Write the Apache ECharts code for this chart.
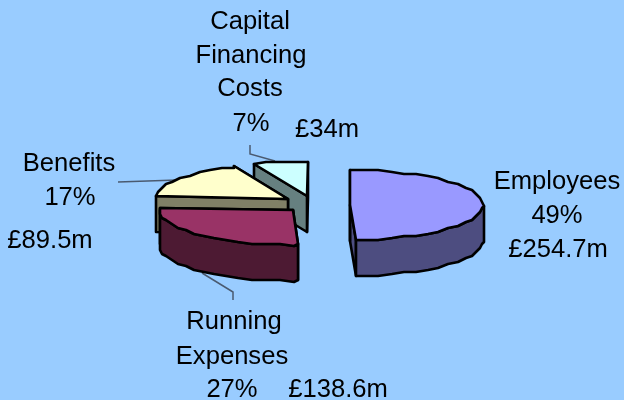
<!DOCTYPE html>
<html><head><meta charset="utf-8">
<style>html,body{margin:0;padding:0;background:#99CCFF}#c{width:624px;height:400px}</style>
<script src="https://cdn.jsdelivr.net/npm/echarts@6/dist/echarts.min.js"></script></head>
<body><div id="c"></div>
<script>
// Data
const categories = ['Employees', 'Running Expenses', 'Benefits', 'Capital Financing Costs'];
const amounts = [254.7, 138.6, 89.5, 34];

// Styles and layout, kept apart from the data
const topColors = ['#9999FF', '#993366', '#FFFFCC', '#CCFFFF'];
const sideColors = ['#4D4D80', '#4D1A33', '#808066', '#668080'];
const centers = [[350, 205], [293, 210], [288, 199], [307, 196]];
const RX = 133, RY = 35, DEPTH = 36, FONT = 25.6, LEADER = '#4A5A70';

const total = amounts.reduce((a, b) => a + b, 0);
const startAngles = [];
amounts.reduce((acc, v, i) => { startAngles[i] = acc; return acc + v / total * 360; }, 0);

function rimPoint(c, deg, dy) {
  const r = deg * Math.PI / 180;
  const x = c[0] + RX * Math.sin(r), y = c[1] - RY * Math.cos(r) + (dy || 0);
  return [Math.round(x / 2) * 2, Math.round(y / 2) * 2];
}
function arc(c, a0, a1, dy) {
  const pts = [rimPoint(c, a0, dy)];
  for (let a = Math.ceil(a0 / 6 + 1e-6) * 6; a < a1; a += 6) pts.push(rimPoint(c, a, dy));
  pts.push(rimPoint(c, a1, dy));
  return pts;
}
const face = (points, fill) => ({
  type: 'polygon', shape: { points },
  style: { fill, stroke: '#000', lineWidth: 2.6, lineJoin: 'round' }
});

function renderSlice(params, api) {
  const i = api.value(0), value = api.value(1);
  const a0 = startAngles[i], a1 = a0 + value / total * 360;
  const c = centers[i], side = sideColors[i], top = topColors[i];
  const quad = deg => {
    const p = rimPoint(c, deg);
    return face([c, p, [p[0], p[1] + DEPTH], [c[0], c[1] + DEPTH]], side);
  };
  const children = [quad(a1), quad(a0)];
  const f0 = Math.max(a0, 90), f1 = Math.min(a1, 270);
  if (f1 > f0) {
    children.push(face(arc(c, f0, f1, 0).concat(arc(c, f0, f1, DEPTH).reverse()), side));
  }
  children.push(face([c].concat(arc(c, a0, a1, 0)), top));
  return { type: 'group', children };
}

// Label text
const labels = [
  ['Capital', 250, 22], ['Financing', 251, 56], ['Costs', 250, 89], ['7%', 251, 124], ['£34m', 327, 130],
  ['Benefits', 69, 164], ['17%', 70, 198], ['£89.5m', 50, 241],
  ['Employees', 557, 182], ['49%', 557, 216], ['£254.7m', 558, 250],
  ['Running', 234, 322], ['Expenses', 232, 357], ['27%', 232, 390], ['£138.6m', 338, 390]
];
const leaders = [
  [[250, 145], [250, 154], [275, 161]],
  [[118, 182], [177, 180]],
  [[202, 273], [233, 292], [233, 300]]
];

const order = amounts.map((v, i) => [i, v]).reverse();

const chart = echarts.init(document.getElementById('c'), null, { renderer: 'canvas' });
chart.setOption({
  animation: false,
  backgroundColor: '#99CCFF',
  series: [{
    type: 'custom', coordinateSystem: 'none', silent: true,
    renderItem: renderSlice, data: order, z: 2
  }],
  graphic: leaders.map(points => ({
    type: 'polyline', shape: { points }, silent: true, z: 1,
    style: { fill: null, stroke: LEADER, lineWidth: 1.5 }
  })).concat(labels.map(([text, x, y]) => ({
    type: 'text', x, y, silent: true, z: 5,
    style: { text, fill: '#000', font: FONT + 'px "Liberation Sans", Arial, sans-serif', align: 'center', verticalAlign: 'middle' }
  })))
});
</script></body></html>
